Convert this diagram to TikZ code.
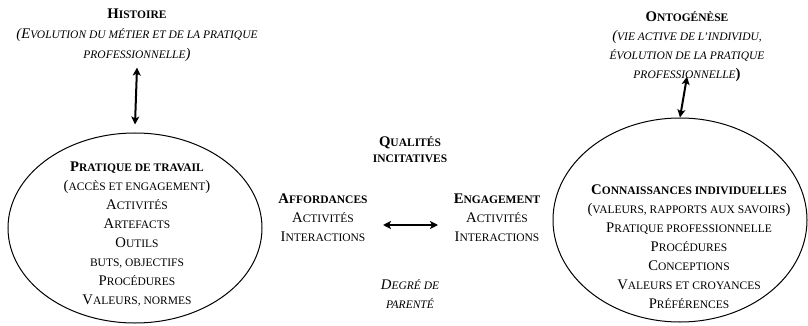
\documentclass[tikz,border=0pt]{standalone}
\usepackage{fontspec}
\setmainfont{Liberation Serif}
\usetikzlibrary{arrows.meta,shapes.geometric}
\newcommand\lc[1]{{\fontsize{11.5}{19}\selectfont #1}}
\tikzset{
  x=1pt,y=-1pt,
  txt/.style={align=center,inner sep=0pt,font=\fontsize{14.7}{19}\selectfont},
  oval/.style={draw,ellipse,line width=1pt,inner sep=0pt},
  dbl/.style={{Stealth[length=8pt,width=8pt,inset=2pt]}-{Stealth[length=8pt,width=8pt,inset=2pt]},line width=2pt},
}
\begin{document}
\begin{tikzpicture}
\useasboundingbox (0,0) rectangle (808,326);
\node[oval,minimum width=254pt,minimum height=190pt] (lell) at (135,228) {};
\node[oval,minimum width=254pt,minimum height=204pt] (rell) at (680,220) {};

\node[txt,font=\fontsize{14.7}{20}\selectfont] (hist) at (137,35) {\textbf{H\lc{ISTOIRE}}\\
\itshape (E\lc{VOLUTION DU MÉTIER ET DE LA PRATIQUE}\\
\itshape \lc{PROFESSIONNELLE})};

\node[txt] (onto) at (687,46.5) {\textbf{O\lc{NTOGÉNÈSE}}\\
\itshape (\lc{VIE ACTIVE DE L'INDIVIDU,}\\
\itshape \lc{ÉVOLUTION DE LA PRATIQUE}\\
\itshape \lc{PROFESSIONNELLE}\textup{\textbf{)}}};

\node[txt] (ltxt) at (137,234) {\textbf{P\lc{RATIQUE DE TRAVAIL}}\\
(\lc{ACCÈS ET ENGAGEMENT})\\
A\lc{CTIVITÉS}\\
A\lc{RTEFACTS}\\
O\lc{UTILS}\\
\lc{BUTS, OBJECTIFS}\\
P\lc{ROCÉDURES}\\
V\lc{ALEURS, NORMES}};

\node[txt] (rtxt) at (689,247) {\textbf{C\lc{ONNAISSANCES INDIVIDUELLES}}\\
(\lc{VALEURS, RAPPORTS AUX SAVOIRS})\\
P\lc{RATIQUE PROFESSIONNELLE}\\
P\lc{ROCÉDURES}\\
C\lc{ONCEPTIONS}\\
V\lc{ALEURS ET CROYANCES}\\
P\lc{RÉFÉRENCES}};

\node[txt,font=\fontsize{14.7}{16}\selectfont] (qual) at (410,150) {\textbf{Q\lc{UALITÉS}}\\
\textbf{\lc{INCITATIVES}}};

\node[txt] (aff) at (323,218) {\textbf{A\lc{FFORDANCES}}\\
A\lc{CTIVITÉS}\\
I\lc{NTERACTIONS}};

\node[txt] (eng) at (497,218) {\textbf{E\lc{NGAGEMENT}}\\
A\lc{CTIVITÉS}\\
I\lc{NTERACTIONS}};

\node[txt] (deg) at (410,294) {\itshape D\lc{EGRÉ DE}\\
\itshape \lc{PARENTÉ}};

\coordinate (m1) at (383,225);
\coordinate (m2) at (438,225);
\draw[dbl] ([yshift=-6pt]hist.south) -- ([yshift=8pt]lell.north);
\draw[dbl] ([yshift=5pt]onto.south) -- (rell.north);
\draw[dbl] (m1) -- (m2);
\end{tikzpicture}
\end{document}
